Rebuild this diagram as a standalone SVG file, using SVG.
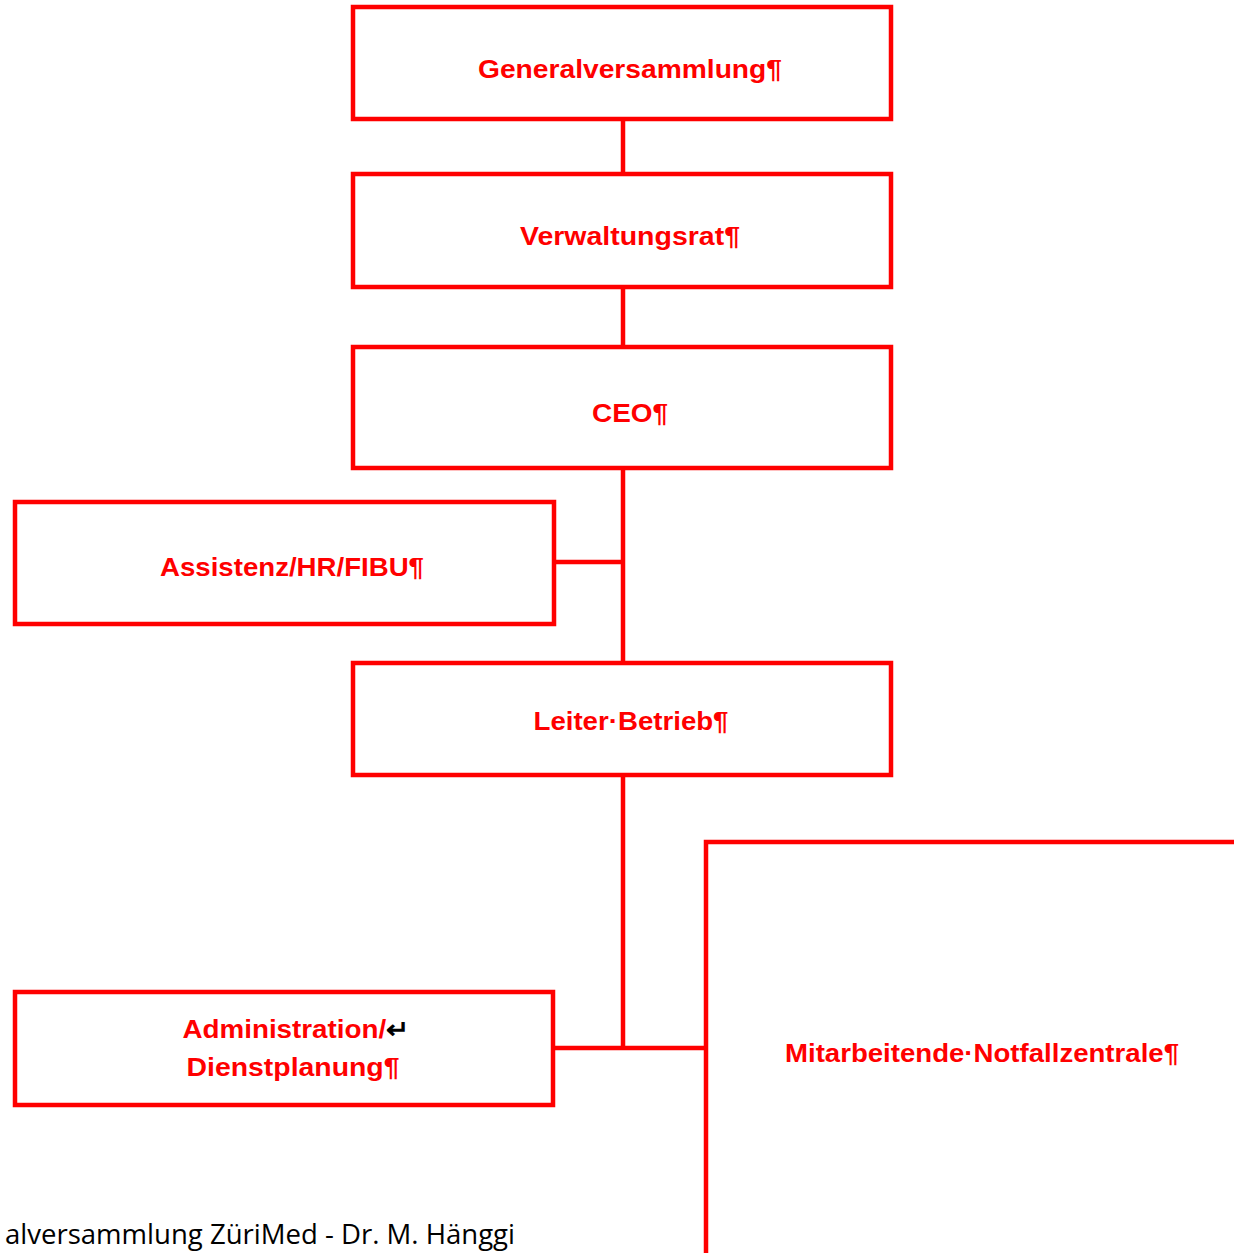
<svg xmlns="http://www.w3.org/2000/svg" width="1234" height="1253" viewBox="0 0 1234 1253">
<style>
.box{fill:#ffffff;stroke:#ff0000;stroke-width:4.5}
.lbl{font-family:"Liberation Sans",Arial,sans-serif;font-weight:bold;font-size:25px;fill:#ff0000;text-anchor:middle}
.con{stroke:#ff0000;stroke-width:4.5;fill:none}
.foot{font-family:"Open Sans","Noto Sans",sans-serif;font-size:28px;fill:#000000}
</style>
<rect width="1234" height="1253" fill="#ffffff"/>
<g id="connectors">
<line class="con" x1="623" y1="119" x2="623" y2="174"/>
<line class="con" x1="623" y1="287" x2="623" y2="347"/>
<line class="con" x1="623" y1="468" x2="623" y2="663"/>
<line class="con" x1="554" y1="562" x2="623" y2="562"/>
<line class="con" x1="623" y1="775" x2="623" y2="1050"/>
<line class="con" x1="553" y1="1048" x2="706" y2="1048"/>
</g>
<g id="n-generalversammlung">
<rect class="box" x="353" y="7" width="538" height="112"/>
<text class="lbl" x="630" y="78" textLength="304" lengthAdjust="spacingAndGlyphs">Generalversammlung¶</text>
</g>
<g id="n-verwaltungsrat">
<rect class="box" x="353" y="174" width="538" height="113"/>
<text class="lbl" x="630" y="245" textLength="220" lengthAdjust="spacingAndGlyphs">Verwaltungsrat¶</text>
</g>
<g id="n-ceo">
<rect class="box" x="353" y="347" width="538" height="121"/>
<text class="lbl" x="630" y="422" textLength="76" lengthAdjust="spacingAndGlyphs">CEO¶</text>
</g>
<g id="n-assistenz">
<rect class="box" x="15" y="502" width="539" height="122"/>
<text class="lbl" x="292" y="576" textLength="264" lengthAdjust="spacingAndGlyphs">Assistenz/HR/FIBU¶</text>
</g>
<g id="n-leiter">
<rect class="box" x="353" y="663" width="538" height="112"/>
<text class="lbl" x="631" y="730" textLength="195" lengthAdjust="spacingAndGlyphs">Leiter·Betrieb¶</text>
</g>
<g id="n-administration">
<rect class="box" x="15" y="992" width="538" height="113"/>
<text class="lbl" x="296" y="1038" textLength="227" lengthAdjust="spacingAndGlyphs">Administration/<tspan fill="#000000">↵</tspan></text>
<text class="lbl" x="293" y="1076" textLength="213" lengthAdjust="spacingAndGlyphs">Dienstplanung¶</text>
</g>
<g id="n-mitarbeitende">
<rect class="box" x="706" y="842" width="560" height="440"/>
<text class="lbl" x="982" y="1062" textLength="394" lengthAdjust="spacingAndGlyphs">Mitarbeitende·Notfallzentrale¶</text>
</g>
<text class="foot" x="5" y="1244" textLength="510" lengthAdjust="spacingAndGlyphs">alversammlung ZüriMed - Dr. M. Hänggi</text>
</svg>
